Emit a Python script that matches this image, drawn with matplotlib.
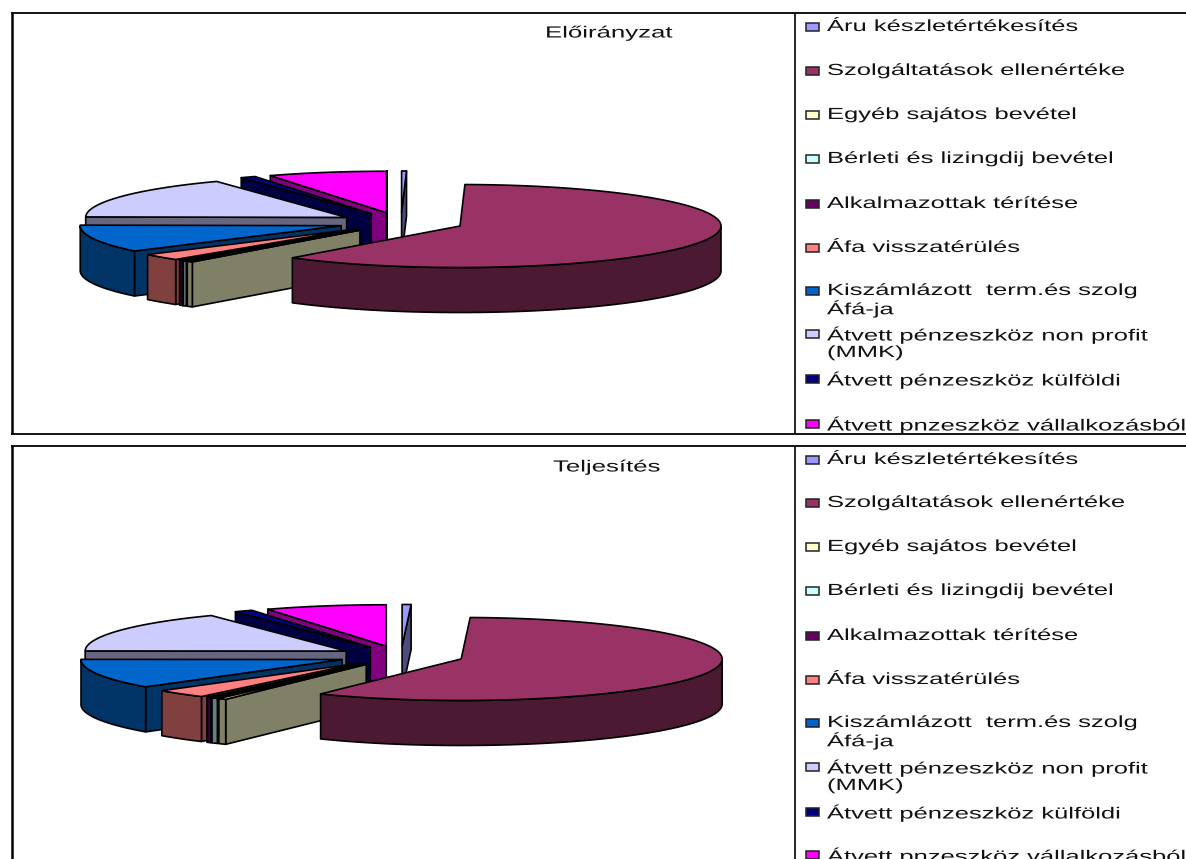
"""
Two exploded 3D pies (Előirányzat / Teljesítés) with legend panels.
"""
import numpy as np
import matplotlib.pyplot as plt
from matplotlib.patches import Polygon, Rectangle
from matplotlib.patheffects import AbstractPathEffect
from matplotlib.transforms import Affine2D

labels = ['Áru készletértékesítés', 'Szolgáltatások ellenértéke', 'Egyéb sajátos bevétel',
          'Bérleti és lizingdij bevétel', 'Alkalmazottak térítése', 'Áfa visszatérülés',
          'Kiszámlázott  term.és szolg\nÁfá-ja', 'Átvett pénzeszköz non profit\n(MMK)',
          'Átvett pénzeszköz külföldi', 'Átvett pnzeszköz vállalkozásból']
colors = ['#9999FF', '#993366', '#FFFFCC', '#CCFFFF', '#660066',
          '#FF8080', '#0066CC', '#CCCCFF', '#000080', '#FF00FF']
sides = ['#4C4C80', '#4C1933', '#808066', '#668080', '#330033',
         '#804040', '#003366', '#666680', '#000040', '#800080']

# shares in percent
eloiranyzat = [0.3, 60.8, 0.4, 0.25, 0.25, 2.55, 10.65, 16.5, 0.95, 7.35]
teljesites = [0.55, 58.5, 0.5, 0.4, 0.3, 3.3, 11.5, 16.3, 1.15, 7.5]

# back to front, the big slice overlaps its neighbours
draw_order = [0, 9, 8, 7, 6, 5, 4, 3, 2, 1]

RX, RY, DEPTH, EXPLODE = 261, 41.5, 45, 63
LW = 1.2
BLACK = '#111111'

fig = plt.figure(figsize=(11.86, 8.59), dpi=100)
ax = fig.add_axes([0, 0, 1, 1])
ax.set_xlim(0, 1186); ax.set_ylim(859, 0)
ax.axis('off')


class StretchX(AbstractPathEffect):
    # the reference text is Arial pulled wide, so scale the glyphs around x0
    def __init__(self, x0, sx):
        super().__init__()
        self.x0, self.sx = x0, sx

    def draw_path(self, renderer, gc, tpath, affine, rgbFace=None):
        wide = affine + Affine2D().translate(-self.x0, 0).scale(self.sx, 1).translate(self.x0, 0)
        renderer.draw_path(gc, tpath, wide, rgbFace)


def pie3d(values, cx, cy):
    edges = np.deg2rad(np.concatenate([[0], np.cumsum(values)]) / np.sum(values) * 360)
    for i in draw_order:
        a0, a1 = edges[i], edges[i + 1]
        mid = (a0 + a1) / 2
        tx = cx + EXPLODE * np.sin(mid)
        ty = cy - EXPLODE * np.cos(mid) * RY / RX
        t = np.linspace(a0, a1, max(3, int(np.degrees(a1 - a0) * 2)))
        rim = np.column_stack([tx + RX * np.sin(t), ty - RY * np.cos(t)])
        tip = np.array([tx, ty])
        down = np.array([0, DEPTH])
        kw = dict(edgecolor='black', linewidth=LW, joinstyle='round')
        # radial cuts that face the viewer, then the front of the rim, then the top
        if np.sin(a0) < 0:
            ax.add_patch(Polygon([tip, rim[0], rim[0] + down, tip + down], facecolor=sides[i], **kw))
        if np.sin(a1) > 0:
            ax.add_patch(Polygon([tip, rim[-1], rim[-1] + down, tip + down], facecolor=sides[i], **kw))
        front = rim[np.cos(t) < 0]
        if len(front) > 1:
            ax.add_patch(Polygon(np.vstack([front, front[::-1] + down]), facecolor=sides[i], **kw))
        ax.add_patch(Polygon(np.vstack([tip, rim]), facecolor=colors[i], **kw))


def wide_text(x, y, s, sx, size, va='center'):
    ax.text(x, y, s, fontsize=size, family='Liberation Sans', color=BLACK, ha='left', va=va,
            linespacing=1.12, path_effects=[StretchX(x, sx)])


def legend(rows):
    for lab, col, y in zip(labels, colors, rows):
        ax.add_patch(Rectangle((805.5, y - 3.5), 13, 8.5, facecolor=col, edgecolor='#222222', linewidth=1.1))
        wide_text(827, y - 7, lab, LEG_SX, LEG_FS, va='top')


LEG_FS, LEG_SX = 11.6, 1.585

# frames: top panel is closed, bottom panel runs off the page
for y in (13, 434, 446):
    ax.plot([11, 1186], [y, y], color='black', lw=1.3, solid_capstyle='butt')
for y0, y1 in ((13, 434), (446, 859)):
    ax.plot([12, 12], [y0, y1], color='black', lw=1.8, solid_capstyle='butt')
    ax.plot([795, 795], [y0, y1], color='black', lw=1.2, solid_capstyle='butt')

wide_text(545, 33, 'Előirányzat', 1.6, 11.6)
wide_text(553, 467, 'Teljesítés', 1.6, 11.6)

pie3d(eloiranyzat, 401, 222.5)
pie3d(teljesites, 401, 656)

legend([26, 70, 114, 158, 203, 247, 290, 333, 378, 423])
legend([459, 502, 546, 590, 635, 679, 722, 766, 811, 854])

fig.savefig('out.png', dpi=100)
